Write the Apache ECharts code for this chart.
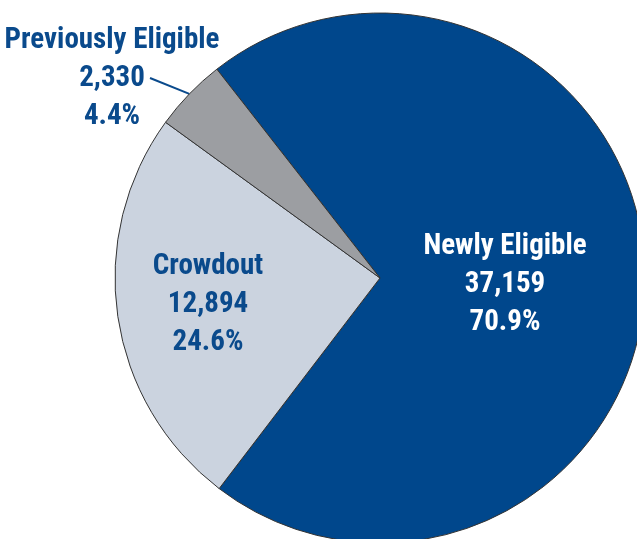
<!DOCTYPE html>
<html>
<head>
<meta charset="utf-8">
<script src="https://cdn.jsdelivr.net/npm/echarts@6/dist/echarts.min.js"></script>
<style>
  html, body { margin: 0; padding: 0; background: #fff; }
  #chart { width: 637px; height: 539px; }
</style>
</head>
<body>
<div id="chart"></div>
<script>
// slice data
const names = ["Newly Eligible", "Crowdout", "Previously Eligible"];
const values = [37159, 12894, 2330];
const percents = ["70.9%", "24.6%", "4.4%"];

const colors = ["#00478c", "#cbd3df", "#9c9ea2"];
const textColors = ["#ffffff", "#0a4a8c", "#0a4a8c"];
// label centre per slice (layout only)
const labelPos = [[505, 285], [208, 305], [112, 79]];

const FONT = '"Liberation Sans Narrow", "Roboto Condensed", "DejaVu Sans Condensed", sans-serif';

const chart = echarts.init(document.getElementById("chart"));

const data = names.map((n, i) => ({
  name: n,
  value: values[i],
  itemStyle: { color: colors[i] },
  label: {
    show: true,
    position: i === 2 ? "outside" : "inside",
    color: textColors[i],
    formatter: () => n + "\n" + values[i].toLocaleString("en-US") + "\n" + percents[i],
  },
  labelLine: { show: i === 2 },
}));

chart.setOption({
  animation: false,
  series: [
    {
      type: "pie",
      center: [380, 278],
      radius: 265,
      startAngle: 128,
      clockwise: true,
      data: data,
      itemStyle: { borderColor: "#333", borderWidth: 1 },
      label: {
        fontFamily: FONT,
        fontWeight: "bold",
        fontSize: 29,
        lineHeight: 38,
        align: "center",
        overflow: "none",
        width: 300,
      },
      labelLine: {
        lineStyle: { color: "#0a4a8c", width: 2 },
      },
      emphasis: { disabled: true },
      labelLayout: (params) => {
        const p = labelPos[params.dataIndex];
        const out = { x: p[0], y: p[1], align: "center", verticalAlign: "middle" };
        if (params.dataIndex === 2 && params.labelLinePoints) {
          const a = params.labelLinePoints[0];
          const end = [p[0] + 38, p[1] - 1];
          out.labelLinePoints = [a, end, end];
        }
        return out;
      },
    },
  ],
});
</script>
</body>
</html>
